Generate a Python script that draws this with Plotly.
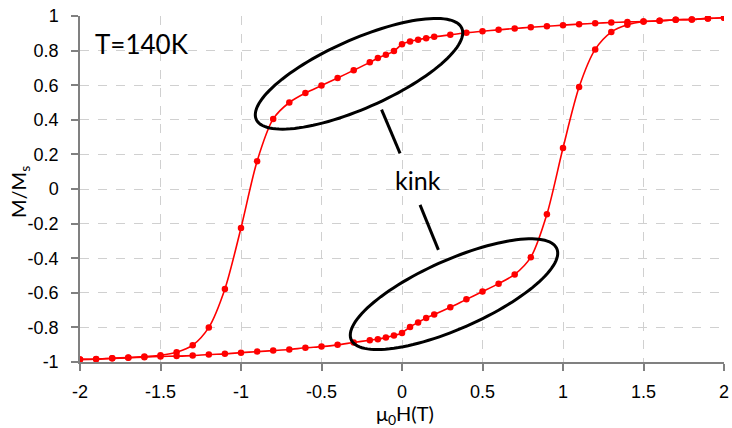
import numpy as np
import plotly.graph_objects as go

# Descending branch (field swept from +2 T to -2 T)
H_down = [2.0, 1.9, 1.8, 1.7, 1.6, 1.5, 1.4, 1.3, 1.2, 1.1, 1.0, 0.9, 0.8, 0.7, 0.6,
          0.5, 0.4, 0.3, 0.2, 0.15, 0.1, 0.05, 0.0, -0.05, -0.1, -0.15, -0.2, -0.3,
          -0.4, -0.5, -0.6, -0.7, -0.8, -0.9, -1.0, -1.1, -1.2, -1.3, -1.4, -1.5,
          -1.6, -1.7, -1.8, -1.9, -2.0]
M_down = [0.99, 0.986, 0.98, 0.978, 0.972, 0.968, 0.966, 0.962, 0.958, 0.953, 0.947,
          0.941, 0.935, 0.928, 0.92, 0.912, 0.903, 0.891, 0.88, 0.872, 0.863, 0.853,
          0.837, 0.797, 0.776, 0.757, 0.732, 0.686, 0.642, 0.598, 0.555, 0.50, 0.405,
          0.161, -0.225, -0.578, -0.80, -0.903, -0.944, -0.961, -0.968, -0.974,
          -0.978, -0.984, -0.985]

# Ascending branch (field swept from -2 T to +2 T)
H_up = [-2.0, -1.9, -1.8, -1.7, -1.6, -1.5, -1.4, -1.3, -1.2, -1.1, -1.0, -0.9, -0.8,
        -0.7, -0.6, -0.5, -0.4, -0.3, -0.2, -0.15, -0.1, -0.05, 0.0, 0.05, 0.1, 0.15,
        0.2, 0.3, 0.4, 0.5, 0.6, 0.7, 0.8, 0.9, 1.0, 1.1, 1.2, 1.3, 1.4, 1.5, 1.6,
        1.7, 1.8, 1.9, 2.0]
M_up = [-0.985, -0.983, -0.979, -0.976, -0.972, -0.968, -0.966, -0.963, -0.957,
        -0.953, -0.946, -0.94, -0.934, -0.928, -0.918, -0.911, -0.901, -0.887,
        -0.874, -0.868, -0.859, -0.847, -0.832, -0.797, -0.771, -0.745, -0.726,
        -0.684, -0.638, -0.593, -0.547, -0.494, -0.394, -0.146, 0.237, 0.589, 0.807,
        0.907, 0.949, 0.968, 0.972, 0.978, 0.98, 0.986, 0.99]

x_ticks = [-2, -1.5, -1, -0.5, 0, 0.5, 1, 1.5, 2]
x_tick_labels = ["-2", "-1.5", "-1", "-0.5", "0", "0.5", "1", "1.5", "2"]
y_ticks = [-1, -0.8, -0.6, -0.4, -0.2, 0, 0.2, 0.4, 0.6, 0.8, 1]
y_tick_labels = ["-1", "-0.8", "-0.6", "-0.4", "-0.2", "0", "0.2", "0.4", "0.6", "0.8", "1"]

W, H = 732, 428
ML, MR, MT, MB = 80, 8, 15.5, 65.5
PW, PH = W - ML - MR, H - MT - MB
pxx = PW / 4.0   # pixels per tesla
pxy = PH / 2.0   # pixels per unit M/Ms

RED = "#ff0000"
fig = go.Figure()
for hx, my in [(H_down, M_down), (H_up, M_up)]:
    fig.add_trace(go.Scatter(
        x=hx, y=my, mode="lines+markers",
        line=dict(color=RED, width=1.6, shape="spline", smoothing=0.8),
        marker=dict(color=RED, size=6.5),
        showlegend=False, hoverinfo="skip"))


def ellipse_path(cx, cy, a_px, b_px, ang_deg, n=120):
    t = np.linspace(0, 2 * np.pi, n)
    th = np.deg2rad(ang_deg)
    ex = a_px * np.cos(t) * np.cos(th) - b_px * np.sin(t) * np.sin(th)
    ey = a_px * np.cos(t) * np.sin(th) + b_px * np.sin(t) * np.cos(th)
    xs = cx + ex / pxx
    ys = cy + ey / pxy
    pts = ["%s%.5f,%.5f" % ("M" if i == 0 else "L", xs[i], ys[i]) for i in range(n)]
    return " ".join(pts) + " Z"


shapes = []
for cx, cy in [(-0.267, 0.666), (0.323, -0.608)]:
    shapes.append(dict(type="path", xref="x", yref="y",
                       path=ellipse_path(cx, cy, 112.5, 34.4, 24),
                       line=dict(color="black", width=3)))
for (x0, y0, x1, y1) in [(-0.127, 0.459, -0.012, 0.206), (0.112, -0.092, 0.226, -0.352)]:
    shapes.append(dict(type="line", xref="x", yref="y", x0=x0, y0=y0, x1=x1, y1=y1,
                       line=dict(color="black", width=3)))

annotations = [
    dict(x=-1.919, y=0.836, xref="x", yref="y", text="T=140K", showarrow=False,
         xanchor="left", yanchor="middle", font=dict(family="Lato", size=26, color="black")),
    dict(x=0.101, y=0.05, xref="x", yref="y", text="kink", showarrow=False,
         xanchor="center", yanchor="middle", font=dict(family="Lato", size=25, color="black")),
    # axis titles
    dict(x=(405 - ML) / PW, y=(MT + PH - 415) / PH, xref="paper", yref="paper",
         text="μ<sub>0</sub>H(T)", showarrow=False, xanchor="center", yanchor="middle",
         font=dict(family="Lato", size=20, color="black")),
    dict(x=(20 - ML) / PW, y=(MT + PH - 192) / PH, xref="paper", yref="paper",
         text="M/M<sub>s</sub>", showarrow=False, xanchor="center", yanchor="middle",
         textangle=-90, font=dict(family="Lato", size=20, color="black")),
]

axis_common = dict(
    showgrid=True, gridcolor="#d0d0d0", griddash="dash", gridwidth=1,
    showline=True, linecolor="#808080", linewidth=1.5,
    ticks="outside", ticklen=7, tickcolor="#808080", tickwidth=1.5,
    zeroline=False, automargin=False,
    tickfont=dict(family="Liberation Sans", size=18, color="black"),
)

fig.update_layout(
    width=W, height=H,
    margin=dict(l=ML, r=MR, t=MT, b=MB),
    paper_bgcolor="white", plot_bgcolor="white",
    shapes=shapes, annotations=annotations,
    xaxis=dict(range=[-2, 2], tickvals=x_ticks, ticktext=x_tick_labels,
               ticklabelstandoff=6, **axis_common),
    yaxis=dict(range=[-1, 1], tickvals=y_ticks, ticktext=y_tick_labels,
               ticklabelstandoff=9, **axis_common),
)

fig.write_html("out.html", config={"displayModeBar": False},
               post_script="document.body.style.margin='0';")
